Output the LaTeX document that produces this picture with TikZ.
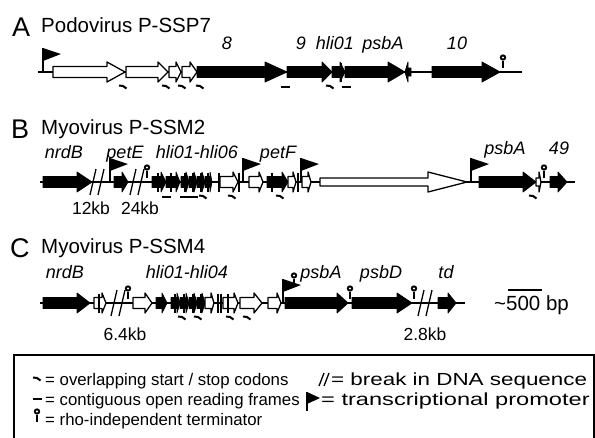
\documentclass[tikz,border=0pt]{standalone}
\usepackage{fontspec}
\setmainfont{Liberation Sans}
\newfontfamily\widefont{Liberation Sans}[FakeStretch=1.28]
\newfontfamily\widerfont{Liberation Sans}[FakeStretch=1.35]
\newcommand\fs[1]{\fontsize{#1}{#1}\selectfont}
% gene arrow: x1, x2(tip), xh(head start), y, style, body half-height
\newcommand\gnx[6]{\draw[#5] (#1,#4-#6) -- (#3,#4-#6) -- (#3,#4-10) -- (#2,#4) -- (#3,#4+10) -- (#3,#4+#6) -- (#1,#4+#6) -- cycle;}
\newcommand\gn[5]{\gnx{#1}{#2}{#3}{#4}{#5}{5.5}}
\newcommand\spk[2]{\draw[line width=1.3pt] (#1,#2-9.5) -- (#1,#2+9.5);}
\newcommand\prom[2]{\draw[line width=1.4pt] (#1,#2) -- (#1,#2-24); \fill (#1,#2-24) -- (#1+18,#2-18) -- (#1,#2-11) -- cycle;}
\newcommand\term[2]{\draw[line width=1.6pt] (#1,#2-4) -- (#1,#2-11); \fill (#1,#2-14.5) circle (3.2); \fill[white] (#1,#2-14.5) circle (1.2);}
\newcommand\brk[2]{\draw[line width=1.3pt] (#1-7,#2+13) -- (#1-1,#2-13) (#1+1,#2+13) -- (#1+7,#2-13);}
\newcommand\ovl[2]{\draw[line width=2pt] (#1-4,#2-1.5) -- (#1,#2-1) -- (#1+3.5,#2+1.5);}
\newcommand\ctg[2]{\draw[line width=2pt] (#1-4.5,#2) -- (#1+4.5,#2);}
\begin{document}
\begin{tikzpicture}[x=1pt,y=-1pt,
  blk/.style={fill=black,draw=black,line width=0.8pt,line join=round},
  wht/.style={fill=white,draw=black,line width=1.3pt,line join=round},
  bb/.style={line width=1.1pt},
  lab/.style={font=\fs{18}\itshape,inner sep=0pt,anchor=base},
  kb/.style={font=\fs{17.5},inner sep=0pt,anchor=base},
  ttl/.style={font=\fs{20.5},inner sep=0pt,anchor=base west},
  big/.style={font=\fs{27},inner sep=0pt,anchor=base west},
  leg/.style={font=\fs{16.8},inner sep=0pt,anchor=base west},
  legw/.style={font=\fs{17.5}\widefont,inner sep=0pt,anchor=base west},
  legx/.style={font=\fs{17.5}\widerfont,inner sep=0pt,anchor=base west}]
\useasboundingbox (0,0) rectangle (595,437);
% ---------------- Row A ----------------
\node[big] (LA) at (12,36) {A};
\node[ttl] (TA) at (41,32) {Podovirus P-SSP7};
\draw[bb] (38,72) -- (522,72);
\prom{43}{72}
\gn{53}{125}{107}{72}{wht}
\gn{126}{168}{158}{72}{wht}
\gn{169}{181}{176}{72}{wht}
\gn{182}{197}{190}{72}{wht}
\gn{197}{287}{265}{72}{blk}
\gn{287}{332}{322}{72}{blk}
\gn{332}{345}{340}{72}{blk}
\spk{341}{72}
\gn{345}{405}{388}{72}{blk}
\gnx{411}{405}{408}{72}{blk}{4}
\gn{432}{500}{482}{72}{blk}
\term{503}{72}
\ovl{123}{87}\ovl{166}{87}\ovl{182}{87}\ovl{200}{87}
\ctg{285}{87}\ovl{330}{87}\ctg{346}{87}
\node[lab] (a8) at (227,49) {8};
\node[lab] (a9) at (301,49) {9};
\node[lab] (ahli) at (335,49) {hli01};
\node[lab] (apsbA) at (383,49) {psbA};
\node[lab] (a10) at (457,49) {10};
% ---------------- Row B ----------------
\node[big] (LB) at (11,138) {B};
\node[ttl] (TB) at (41,134) {Myovirus P-SSM2};
\draw[bb] (40,182) -- (575,182);
\gn{43}{92}{77}{182}{blk}
\brk{97}{182}
\prom{110}{182}
\gn{114}{128}{122}{182}{blk}
\brk{137}{182}
\term{147}{182}
\gn{152}{166}{161}{182}{blk}\spk{158}{182}
\gn{166}{180}{176}{182}{blk}\spk{171}{182}
\gn{181}{189}{186}{182}{blk}\spk{185}{182}
\gn{189}{197}{194}{182}{blk}\spk{193}{182}
\gn{197}{205}{202}{182}{blk}\spk{201}{182}
\gn{205}{212}{210}{182}{blk}\spk{208}{182}
\gn{220}{238}{233}{182}{wht}\spk{219}{182}\spk{239}{182}
\prom{243}{182}
\gn{249}{263}{259}{182}{wht}
\gn{267}{288}{282}{182}{blk}\spk{272}{182}
\gn{288}{296}{293}{182}{wht}\spk{298}{182}
\prom{301}{182}
\gn{302}{311}{308}{182}{wht}
\gnx{320}{467}{428}{182}{wht}{4}
\prom{471}{182}
\gn{479}{536}{523}{182}{blk}
\gnx{536}{541}{539}{182}{wht}{4}
\term{544}{182}
\gn{550}{567}{558}{182}{blk}
\ctg{166}{197}\ctg{184}{197}\ctg{193}{197}\ovl{203}{197}
\ovl{232}{197}\ovl{280}{197}\ovl{533}{197}
\node[lab] (bnrdB) at (64,158) {nrdB};
\node[lab] (bpetE) at (125,158) {petE};
\node[lab] (bhli) at (197,158) {hli01-hli06};
\node[lab] (bpetF) at (278,158) {petF};
\node[lab] (bpsbA) at (505,154) {psbA};
\node[lab] (b49) at (559,154) {49};
\node[kb] (b12) at (91,214) {12kb};
\node[kb] (b24) at (140,214) {24kb};
% ---------------- Row C ----------------
\node[big] (LC) at (10,257) {C};
\node[ttl] (TC) at (41,253) {Myovirus P-SSM4};
\draw[bb] (40,303) -- (465,303);
\gn{43}{90}{77}{303}{blk}
\gn{94}{106}{102}{303}{wht}\spk{99}{303}
\brk{118}{303}
\term{128}{303}
\gn{133}{152}{145}{303}{wht}
\gn{156}{167}{162}{303}{blk}
\gn{171}{180}{177}{303}{blk}\spk{175}{303}
\gn{180}{189}{186}{303}{blk}\spk{184}{303}
\gn{189}{197}{194}{303}{blk}\spk{193}{303}
\gn{197}{205}{202}{303}{blk}\spk{201}{303}
\gn{205}{214}{211}{303}{wht}
\spk{218}{303}\spk{221}{303}
\gn{223}{238}{234}{303}{wht}\spk{228}{303}
\gn{240}{262}{254}{303}{wht}
\gn{268}{281}{277}{303}{wht}
\prom{283}{303}
\term{294}{290}
\gn{285}{348}{337}{303}{blk}
\term{350}{303}
\gn{352}{412}{397}{303}{blk}
\term{414}{303}
\brk{425}{303}
\gn{438}{456}{448}{303}{blk}
\ovl{182}{318}\ovl{198}{318}\ovl{230}{318}\ovl{247}{318}
\node[lab] (cnrdB) at (65,278) {nrdB};
\node[lab] (chli) at (187,278) {hli01-hli04};
\node[lab] (cpsbA) at (321,278) {psbA};
\node[lab] (cpsbD) at (381,278) {psbD};
\node[lab] (ctd) at (446,278) {td};
\node[kb] (c64) at (125,340) {6.4kb};
\node[kb] (c28) at (425,340) {2.8kb};
\draw[line width=1.3pt] (508,290) -- (542,290);
\node[kb,font=\fs{20.5},anchor=base west] (scale) at (494,310) {\textasciitilde 500 bp};
% ---------------- Legend ----------------
\draw[line width=1.1pt] (14,355) rectangle (594,445);
\ovl{37}{379}
\node[leg] (l1) at (45,385) {= overlapping start / stop codons};
\draw[line width=1.3pt] (319,386) -- (324,373) (324,386) -- (329,373);
\node[legw] (r1) at (331,385) {= break in DNA sequence};
\ctg{37}{399}
\node[leg] (l2) at (45,405) {= contiguous open reading frames};
\draw[line width=1.4pt] (307,411) -- (307,392);
\fill (307,392) -- (320,398) -- (307,404) -- cycle;
\node[legx] (r2) at (321,405) {= transcriptional promoter};
\term{37}{426}
\node[leg] (l3) at (45,425) {= rho-independent terminator};
\end{tikzpicture}
\end{document}
